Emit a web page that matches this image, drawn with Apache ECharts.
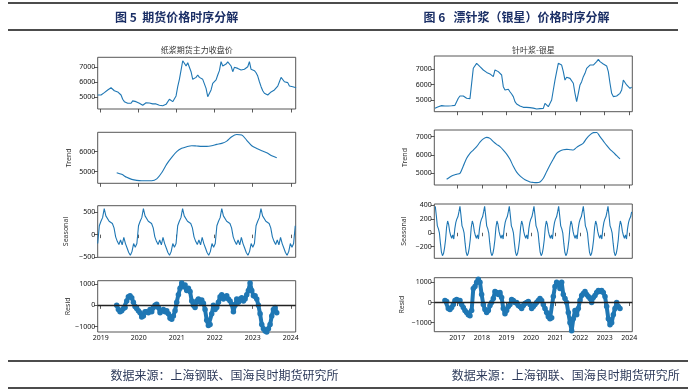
<!DOCTYPE html>
<html><head><meta charset="utf-8">
<script src="https://cdn.jsdelivr.net/npm/echarts@6/dist/echarts.min.js"></script>
<style>html,body{margin:0;padding:0;background:#fff}#c{width:688px;height:392px}</style>
</head><body><div id="c"></div>
<script>
// ---------- Data ----------
// Figure 5: pulp futures main contract close
const yearTicks5 = [2019, 2020, 2021, 2022, 2023, 2024];
const obs5Start = 2018.921, obs5Step = 0.04386;
const observed5 = [5155,5090,5155,5220,5310,5380,5490,5530,5640,5530,
 5440,5420,5360,5310,5155,4870,4710,4670,4600,4640,
 4600,4760,4780,4710,4690,4600,4580,4470,4530,4640,
 4560,4620,4510,4560,4490,4560,4440,4470,4420,4440,
 4470,4530,4640,4870,4780,4710,4820,5090,5710,6200,
 6820,7440,7270,7090,7310,7220,6710,6200,6110,6330,
 6490,6330,6420,6200,6160,5600,5040,5000,5490,5930,
 5980,6160,6490,6780,7380,7090,7040,7220,7360,7310,
 7090,6710,7000,6870,6930,6870,6820,6710,6870,6930,
 7040,7380,6870,6930,6780,6640,6420,6040,5710,5440,
 5270,5200,5155,5270,5360,5440,5490,5600,5750,6040,
 6330,6270,6040,5930,5980,5750,5820,5710,5750,5640];
const trend5Start = 2019.421, trend5Step = 0.13158;
const trend5 = [4950,4867,4717,4617,4567,4550,4550,4550,4640,4950,5380,5717,6000,6167,6250,6300,6283,6267,6267,6300,6367,6417,6530,6750,6860,6833,6570,6300,6160,6050,5950,5800,5700];
const seas5Start = 2018.921, seas5Step = 0.04295;
const seasonal5 = [
 -200,200,300,380,580,420,430,300,330,250,150,-50,-150,-220,-120,-230,-60,-200,-300,-400,-460,-380,-200,-280,
 -200,200,300,380,580,420,430,300,330,250,150,-50,-150,-220,-120,-230,-60,-200,-300,-400,-460,-380,-200,-280,
 -200,200,300,380,580,420,430,300,330,250,150,-50,-150,-220,-120,-230,-60,-200,-300,-400,-460,-380,-200,-280,
 -200,200,300,380,580,420,430,300,330,250,150,-50,-150,-220,-120,-230,-60,-200,-300,-400,-460,-380,-200,-280,
 -200,200,300,380,580,420,430,300,330,250,150,-50,-150,-220,-120,-230,-60,-200,-300,-400,-460,-380,-200,-280,
 -200,200];
const resid5Start = 2019.421, resid5Step = 0.04386;
const resid5 = [0,-200,-300,-250,-150,-100,200,400,450,350,
 150,-50,-150,-250,-350,-550,-500,-300,-300,-350,
 -200,-300,-100,0,50,-100,-350,-250,-200,-300,
 -250,-400,-600,-650,-500,-250,150,500,800,1050,
 900,950,700,800,650,200,0,-100,200,300,
 150,250,100,-200,-700,-950,-900,-400,0,-200,
 -100,150,400,500,300,400,450,300,200,50,
 -300,0,300,150,300,350,200,300,500,700,
 1050,700,450,450,300,0,-400,-900,-1100,-1200,
 -1250,-1100,-900,-500,-200,-100,-350];

// Figure 6: bleached softwood pulp (Silver Star)
const yearTicks6 = [2017, 2018, 2019, 2020, 2021, 2022, 2023, 2024];
const obs6Start = 2016.091, obs6Step = 0.06784;
const observed6 = [4457,4460,4560,4600,4630,4620,4610,4600,4610,4600,
 4620,4630,4650,4890,5110,5260,5390,5260,5170,5110,
 5100,5090,5120,7070,7130,7390,7500,7170,7065,6957,
 6850,6800,6740,6700,6610,6520,6960,7000,6850,6780,
 6630,5870,5650,5760,5700,5540,5390,5220,4890,4740,
 4670,4610,4565,4520,4457,4520,4457,4500,4457,4470,
 4435,4410,4390,4435,4390,4450,4780,4670,4565,4670,
 5000,5650,6300,6850,7390,7280,7280,6850,6300,6480,
 6350,6410,6300,6090,5435,4890,5435,5980,6195,6520,
 6740,7065,7170,7280,7220,7280,7350,7500,7650,7500,
 7390,7350,7390,7220,6850,6090,5435,5220,5330,5260,
 5390,5435,5650,6300,6195,5980,5870,5760,5830];
const trend6Start = 2016.566, trend6Step = 0.13569;
const trend6 = [4673,4800,4890,4945,5000,5400,5818,6091,6270,6455,
 6700,6880,6964,6909,6730,6580,6455,6270,6050,5764,
 5380,5060,4855,4710,4600,4527,4500,4490,4527,4727,
 5091,5450,5780,6091,6220,6290,6309,6290,6273,6418,
 6530,6650,6909,7100,7220,7230,7000,6760,6520,6309,
 6140,5960,5782];
const seas6Start = 2016.104, seas6Step = 0.04184;
const seasonal6 = [
 380,250,100,60,0,-150,-280,-330,-300,-220,-100,80,170,120,20,-40,-80,-30,-90,60,150,200,230,300,
 380,250,100,60,0,-150,-280,-330,-300,-220,-100,80,170,120,20,-40,-80,-30,-90,60,150,200,230,300,
 380,250,100,60,0,-150,-280,-330,-300,-220,-100,80,170,120,20,-40,-80,-30,-90,60,150,200,230,300,
 380,250,100,60,0,-150,-280,-330,-300,-220,-100,80,170,120,20,-40,-80,-30,-90,60,150,200,230,300,
 380,250,100,60,0,-150,-280,-330,-300,-220,-100,80,170,120,20,-40,-80,-30,-90,60,150,200,230,300,
 380,250,100,60,0,-150,-280,-330,-300,-220,-100,80,170,120,20,-40,-80,-30,-90,60,150,200,230,300,
 380,250,100,60,0,-150,-280,-330,-300,-220,-100,80,170,120,20,-40,-80,-30,-90,60,150,200,230,300,
 380,250,100,60,0,-150,-280,-330,-300,-220,-100,80,170,120,20,-40,-80,-30,-90,60,150,200,230,300];
const resid6Start = 2016.498, resid6Step = 0.06784;
const resid6 = [100,50,-300,-350,-250,-100,100,150,100,100,
 -100,-250,-400,-500,-600,-650,-400,700,800,1000,
 1150,1000,400,-100,-350,-500,-400,-150,0,200,
 550,500,400,500,250,-300,-550,-400,-200,-100,
 150,100,0,0,-150,-200,-300,-150,-50,0,
 50,-100,-300,-200,-100,0,100,200,100,-100,
 -300,-500,-700,-800,-750,300,800,1000,900,700,
 1000,400,200,0,-500,-1000,-1400,-800,-400,-600,
 -300,100,350,450,550,400,300,200,0,250,
 350,500,600,550,600,500,300,-200,-800,-1100,
 -1000,-600,-300,0,-200,-300];

// ---------- Build chart ----------
const BLUE = '#1f77b4';
const FONT = 'Noto Sans, DejaVu Sans, sans-serif';
const CJK = 'Noto Sans CJK SC';
function seq(start, step, vals) { return vals.map((v, i) => [start + i * step, v]); }
function fmt(v) { return v < 0 ? '\u2212' + Math.abs(v) : String(v); }

const panels = [
  { left: 97.7, width: 198, xmin: 2018.921, xmax: 2024.13, xt: yearTicks5,
    tops: [57.3, 132.3, 205.7, 280.7], heights: [51.7, 51, 51.6, 51.3],
    yr: [[4220, 7670], [4420, 6970], [-507, 647], [-1250, 1155]],
    yt: [[5000, 6000, 7000], [5000, 6000], [-500, 0, 500], [-1000, 0, 1000]],
    gaps: [0, 25, 28, 24],
    data: [seq(obs5Start, obs5Step, observed5), seq(trend5Start, trend5Step, trend5),
           seq(seas5Start, seas5Step, seasonal5), seq(resid5Start, resid5Step, resid5)] },
  { left: 434.3, width: 198, xmin: 2016.064, xmax: 2024.122, xt: yearTicks6,
    tops: [56, 130, 204, 277.7], heights: [55.7, 55, 54.3, 54],
    yr: [[4235, 7870], [4360, 7365], [-368, 415], [-1445, 1230]],
    yt: [[5000, 6000, 7000], [5000, 6000, 7000], [-200, 0, 200, 400], [-1000, 0, 1000]],
    gaps: [0, 26, 27, 29],
    data: [seq(obs6Start, obs6Step, observed6), seq(trend6Start, trend6Step, trend6),
           seq(seas6Start, seas6Step, seasonal6), seq(resid6Start, resid6Step, resid6)] }
];
const names = ['', 'Trend', 'Seasonal', 'Resid'];

const grid = [], xAxis = [], yAxis = [], series = [];
panels.forEach(p => {
  for (let k = 0; k < 4; k++) {
    const gi = grid.length;
    grid.push({ left: p.left, top: p.tops[k], width: p.width, height: p.heights[k],
      show: true, borderColor: '#444', borderWidth: 0.9, backgroundColor: 'transparent' });
    xAxis.push({ gridIndex: gi, type: 'value', min: p.xmin, max: p.xmax,
      axisLine: { show: false }, splitLine: { show: false },
      axisTick: { show: true, customValues: p.xt, length: 3.5, lineStyle: { color: '#333', width: 0.8 } },
      axisLabel: { show: k === 3, customValues: p.xt, fontSize: 7, color: '#111', margin: 2.5, fontFamily: FONT,
        formatter: v => String(Math.round(v)) } });
    yAxis.push({ gridIndex: gi, type: 'value', min: p.yr[k][0], max: p.yr[k][1],
      name: names[k], nameLocation: 'middle', nameGap: p.gaps[k],
      nameTextStyle: { fontSize: 7, color: '#333', fontFamily: FONT },
      axisLine: { show: false }, splitLine: { show: false },
      axisTick: { show: true, customValues: p.yt[k], length: 3.5, lineStyle: { color: '#333', width: 0.8 } },
      axisLabel: { customValues: p.yt[k], fontSize: 7, color: '#111', margin: 2.5, fontFamily: FONT, formatter: fmt } });
    const s = { type: 'line', xAxisIndex: gi, yAxisIndex: gi, data: p.data[k], animation: false,
      showSymbol: false, lineStyle: { color: BLUE, width: 1.1 }, itemStyle: { color: BLUE } };
    if (k === 1) s.smooth = 0.3;
    if (k === 3) {
      s.showSymbol = true; s.showAllSymbol = true; s.symbol = 'circle'; s.symbolSize = 5.5;
      s.lineStyle = { color: BLUE, width: 4 };
      s.markLine = { silent: true, symbol: 'none', animation: false, label: { show: false },
        lineStyle: { color: '#222', width: 1.3, type: 'solid' }, data: [{ yAxis: 0 }] };
    }
    series.push(s);
  }
});

function hline(y, x1, x2) {
  return { type: 'line', shape: { x1: x1, y1: y, x2: x2, y2: y }, style: { stroke: '#111', lineWidth: 1.3 }, silent: true };
}
function txt(x, y, text, size, color, bold, align) {
  return { type: 'text', x: x, y: y, silent: true,
    style: { text: text, fontSize: size, fill: color, fontWeight: bold ? 'bold' : 'normal',
      fontFamily: CJK, textAlign: align || 'center', textVerticalAlign: 'middle' } };
}

const graphic = [
  hline(3, 8, 678), hline(30, 8, 678), hline(361, 8, 688), hline(388, 8, 688),
  txt(176.7, 17, '图 5  期货价格时序分解', 12, '#1B2F66', true),
  txt(516.5, 17, '图 6   漂针浆（银星）价格时序分解', 12, '#1B2F66', true),
  txt(196.7, 50, '纸浆期货主力收盘价', 8, '#333', false),
  txt(533.3, 50, '针叶浆-银星', 8, '#333', false),
  txt(338.5, 375, '数据来源：上海钢联、国海良时期货研究所', 12, '#2E3B5B', false, 'right'),
  txt(451.7, 375, '数据来源：上海钢联、国海良时期货研究所', 12, '#2E3B5B', false, 'left')
];

const chart = echarts.init(document.getElementById('c'), null, { renderer: 'canvas' });
chart.setOption({ animation: false, backgroundColor: '#fff', grid, xAxis, yAxis, series, graphic });
</script></body></html>
